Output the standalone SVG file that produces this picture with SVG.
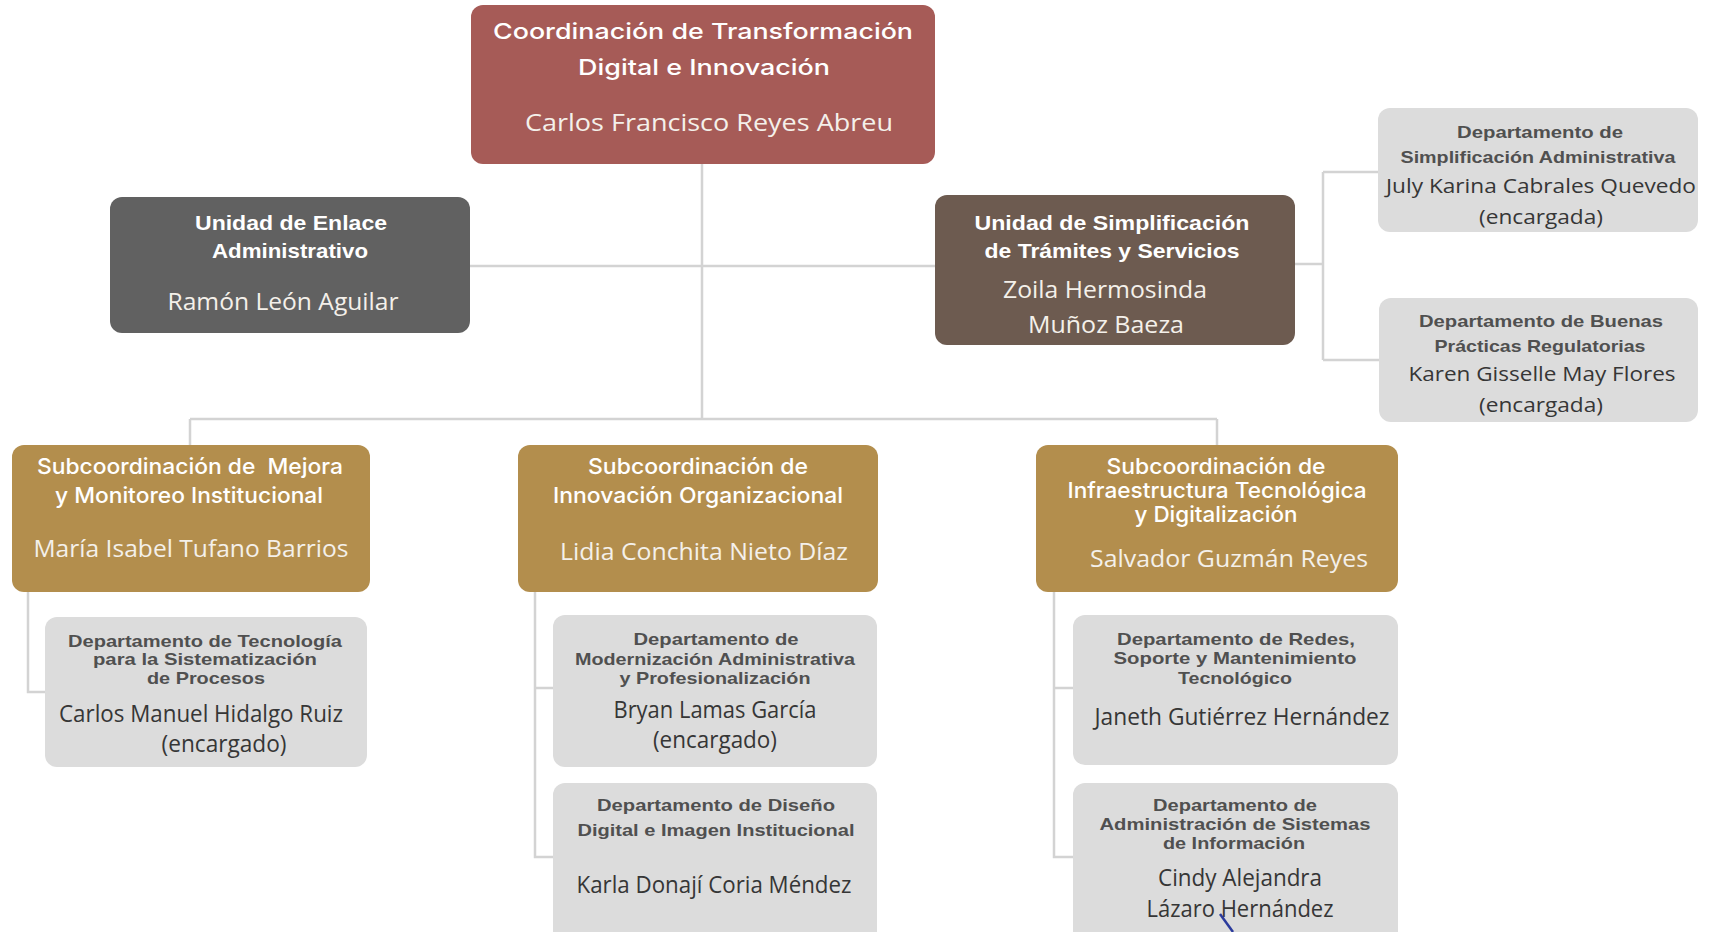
<svg xmlns="http://www.w3.org/2000/svg" width="1710" height="932" viewBox="0 0 1710 932">
<style>
.bg{fill:#ffffff}
.top{fill:#a65b57}
.unitg{fill:#616161}
.unitb{fill:#6d5b50}
.sub{fill:#b38e4d}
.dept{fill:#dcdcdc}
.th{font-family:Inter,"Liberation Sans",Arial,sans-serif;font-weight:500;font-size:22px;fill:#ffffff;text-anchor:middle;white-space:pre}
.tu{font-family:"Liberation Sans",Arial,sans-serif;font-weight:bold;font-size:21px;fill:#ffffff;text-anchor:middle}
.td{font-family:"Liberation Sans",Arial,sans-serif;font-weight:bold;font-size:17px;fill:#505050;text-anchor:middle}
.nw{font-family:"Open Sans","Noto Sans",sans-serif;font-size:24px;fill:#f4f0ea;text-anchor:middle}
.nd{font-family:"Open Sans","Noto Sans",sans-serif;font-size:23px;fill:#363636;text-anchor:middle}
.ns{font-size:20px}
.con{fill:none;stroke:#d3d3d3;stroke-width:2.5}
</style>
<rect class="bg" x="0" y="0" width="1710" height="932"/>
<g id="connectors">
<path class="con" d="M702 164 V419"/>
<path class="con" d="M470 266 H935"/>
<path class="con" d="M190 419 H1217"/>
<path class="con" d="M190 419 V445 M1217 419 V445"/>
<path class="con" d="M1295 264 H1323 M1323 172 V360 M1323 172 H1378 M1323 360 H1379"/>
<path class="con" d="M28 592 V692 H45"/>
<path class="con" d="M535 592 V857 H553 M535 688 H553"/>
<path class="con" d="M1054 592 V857 H1073 M1054 688 H1073"/>
</g>
<g id="coordinacion">
<rect class="top" x="471" y="5" width="464" height="159" rx="12"/>
<text class="th" x="703" y="39" textLength="420" lengthAdjust="spacingAndGlyphs">Coordinación de Transformación</text>
<text class="th" x="704" y="75" textLength="252" lengthAdjust="spacingAndGlyphs">Digital e Innovación</text>
<text class="nw" x="709" y="131" textLength="368" lengthAdjust="spacingAndGlyphs">Carlos Francisco Reyes Abreu</text>
</g>
<g id="unidad-enlace">
<rect class="unitg" x="110" y="197" width="360" height="136" rx="12"/>
<text class="tu" x="291" y="230" textLength="192" lengthAdjust="spacingAndGlyphs">Unidad de Enlace</text>
<text class="tu" x="290" y="258" textLength="156" lengthAdjust="spacingAndGlyphs">Administrativo</text>
<text class="nw" x="283" y="310" textLength="231" lengthAdjust="spacingAndGlyphs">Ramón León Aguilar</text>
</g>
<g id="unidad-simplificacion">
<rect class="unitb" x="935" y="195" width="360" height="150" rx="12"/>
<text class="tu" x="1112" y="230" textLength="275" lengthAdjust="spacingAndGlyphs">Unidad de Simplificación</text>
<text class="tu" x="1112" y="258" textLength="255" lengthAdjust="spacingAndGlyphs">de Trámites y Servicios</text>
<text class="nw" x="1105" y="298" textLength="204" lengthAdjust="spacingAndGlyphs">Zoila Hermosinda</text>
<text class="nw" x="1106" y="333" textLength="156" lengthAdjust="spacingAndGlyphs">Muñoz Baeza</text>
</g>
<g id="depto-simplificacion">
<rect class="dept" x="1378" y="108" width="320" height="124" rx="12"/>
<text class="td" x="1540" y="138" textLength="166" lengthAdjust="spacingAndGlyphs">Departamento de</text>
<text class="td" x="1538" y="163" textLength="275" lengthAdjust="spacingAndGlyphs">Simplificación Administrativa</text>
<text class="nd ns" x="1541" y="193" textLength="310" lengthAdjust="spacingAndGlyphs">July Karina Cabrales Quevedo</text>
<text class="nd ns" x="1541" y="224" textLength="124" lengthAdjust="spacingAndGlyphs">(encargada)</text>
</g>
<g id="depto-buenas-practicas">
<rect class="dept" x="1379" y="298" width="319" height="124" rx="12"/>
<text class="td" x="1541" y="327" textLength="244" lengthAdjust="spacingAndGlyphs">Departamento de Buenas</text>
<text class="td" x="1540" y="352" textLength="211" lengthAdjust="spacingAndGlyphs">Prácticas Regulatorias</text>
<text class="nd ns" x="1542" y="381" textLength="267" lengthAdjust="spacingAndGlyphs">Karen Gisselle May Flores</text>
<text class="nd ns" x="1541" y="412" textLength="124" lengthAdjust="spacingAndGlyphs">(encargada)</text>
</g>
<g id="sub-mejora">
<rect class="sub" x="12" y="445" width="358" height="147" rx="12"/>
<text class="th" x="190" y="474" textLength="306" lengthAdjust="spacingAndGlyphs">Subcoordinación de  Mejora</text>
<text class="th" x="189" y="503" textLength="268" lengthAdjust="spacingAndGlyphs">y Monitoreo Institucional</text>
<text class="nw" x="191" y="557" textLength="315" lengthAdjust="spacingAndGlyphs">María Isabel Tufano Barrios</text>
</g>
<g id="sub-innovacion">
<rect class="sub" x="518" y="445" width="360" height="147" rx="12"/>
<text class="th" x="698" y="474" textLength="220" lengthAdjust="spacingAndGlyphs">Subcoordinación de</text>
<text class="th" x="698" y="503" textLength="290" lengthAdjust="spacingAndGlyphs">Innovación Organizacional</text>
<text class="nw" x="704" y="560" textLength="288" lengthAdjust="spacingAndGlyphs">Lidia Conchita Nieto Díaz</text>
</g>
<g id="sub-infraestructura">
<rect class="sub" x="1036" y="445" width="362" height="147" rx="12"/>
<text class="th" x="1216" y="474" textLength="219" lengthAdjust="spacingAndGlyphs">Subcoordinación de</text>
<text class="th" x="1217" y="498" textLength="299" lengthAdjust="spacingAndGlyphs">Infraestructura Tecnológica</text>
<text class="th" x="1216" y="522" textLength="163" lengthAdjust="spacingAndGlyphs">y Digitalización</text>
<text class="nw" x="1229" y="567" textLength="278" lengthAdjust="spacingAndGlyphs">Salvador Guzmán Reyes</text>
</g>
<g id="depto-tecnologia">
<rect class="dept" x="45" y="617" width="322" height="150" rx="12"/>
<text class="td" x="205" y="647" textLength="274" lengthAdjust="spacingAndGlyphs">Departamento de Tecnología</text>
<text class="td" x="205" y="665" textLength="224" lengthAdjust="spacingAndGlyphs">para la Sistematización</text>
<text class="td" x="206" y="684" textLength="118" lengthAdjust="spacingAndGlyphs">de Procesos</text>
<text class="nd" x="201" y="722" textLength="284" lengthAdjust="spacingAndGlyphs">Carlos Manuel Hidalgo Ruiz</text>
<text class="nd" x="224" y="752" textLength="125" lengthAdjust="spacingAndGlyphs">(encargado)</text>
</g>
<g id="depto-modernizacion">
<rect class="dept" x="553" y="615" width="324" height="152" rx="12"/>
<text class="td" x="716" y="645" textLength="165" lengthAdjust="spacingAndGlyphs">Departamento de</text>
<text class="td" x="715" y="665" textLength="280" lengthAdjust="spacingAndGlyphs">Modernización Administrativa</text>
<text class="td" x="715" y="684" textLength="191" lengthAdjust="spacingAndGlyphs">y Profesionalización</text>
<text class="nd" x="715" y="718" textLength="203" lengthAdjust="spacingAndGlyphs">Bryan Lamas García</text>
<text class="nd" x="715" y="748" textLength="124" lengthAdjust="spacingAndGlyphs">(encargado)</text>
</g>
<g id="depto-diseno">
<rect class="dept" x="553" y="783" width="324" height="165" rx="12"/>
<text class="td" x="716" y="811" textLength="238" lengthAdjust="spacingAndGlyphs">Departamento de Diseño</text>
<text class="td" x="716" y="836" textLength="277" lengthAdjust="spacingAndGlyphs">Digital e Imagen Institucional</text>
<text class="nd" x="714" y="893" textLength="275" lengthAdjust="spacingAndGlyphs">Karla Donají Coria Méndez</text>
</g>
<g id="depto-redes">
<rect class="dept" x="1073" y="615" width="325" height="150" rx="12"/>
<text class="td" x="1236" y="645" textLength="238" lengthAdjust="spacingAndGlyphs">Departamento de Redes,</text>
<text class="td" x="1235" y="664" textLength="243" lengthAdjust="spacingAndGlyphs">Soporte y Mantenimiento</text>
<text class="td" x="1235" y="684" textLength="114" lengthAdjust="spacingAndGlyphs">Tecnológico</text>
<text class="nd" x="1242" y="725" textLength="295" lengthAdjust="spacingAndGlyphs">Janeth Gutiérrez Hernández</text>
</g>
<g id="depto-sistemas">
<rect class="dept" x="1073" y="783" width="325" height="165" rx="12"/>
<text class="td" x="1235" y="811" textLength="164" lengthAdjust="spacingAndGlyphs">Departamento de</text>
<text class="td" x="1235" y="830" textLength="271" lengthAdjust="spacingAndGlyphs">Administración de Sistemas</text>
<text class="td" x="1234" y="849" textLength="142" lengthAdjust="spacingAndGlyphs">de Información</text>
<text class="nd" x="1240" y="886" textLength="164" lengthAdjust="spacingAndGlyphs">Cindy Alejandra</text>
<text class="nd" x="1240" y="917" textLength="187" lengthAdjust="spacingAndGlyphs">Lázaro Hernández</text>
</g>
<path d="M1220 914 L1233 932" fill="none" stroke="#2b3b9c" stroke-width="2.5"/>
</svg>
